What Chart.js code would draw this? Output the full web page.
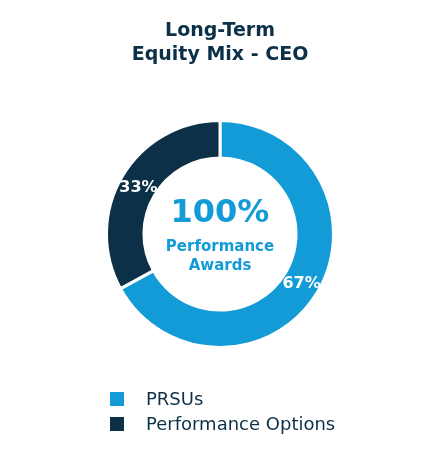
<!DOCTYPE html>
<html>
<head>
<meta charset="utf-8">
<script src="https://cdn.jsdelivr.net/npm/chart.js@4"></script>
<style>
  html, body { margin: 0; padding: 0; background: #fff; }
  #wrap { position: relative; width: 440px; height: 460px; }
  #legend { position: absolute; left: 110px; top: 386px; font-family: 'DejaVu Sans', sans-serif; font-size: 18px; color: #0b3047; }
  #legend div { height: 25px; line-height: 25px; }
  #legend span.box { display: inline-block; width: 14px; height: 14px; margin-right: 22px; vertical-align: -1px; }
</style>
</head>
<body>
<div id="wrap">
  <canvas id="chart" width="440" height="460"></canvas>
  <div id="legend"></div>
</div>
<script>
'use strict'

// ************* Data ****************
let categories = ['PRSUs', 'Performance Options'];
let shares = [67, 33];
let colors = ['#139bd7', '#0b3047'];
let titleLines = ['Long-Term', 'Equity Mix - CEO'];
let centerBig = '100%';
let centerSmall = ['Performance', 'Awards'];

let navy = '#0b3047';
let fontFamily = "'DejaVu Sans', sans-serif";

// ************* Plugin: labels, title, center text ****************
let textPlugin = {
  id: 'textPlugin',
  afterDatasetsDraw(chart) {
    let ctx = chart.ctx;
    let meta = chart.getDatasetMeta(0);
    ctx.save();
    ctx.textAlign = 'center';
    ctx.textBaseline = 'middle';

    // slice labels
    ctx.fillStyle = '#fff';
    ctx.font = 'bold 16px ' + fontFamily;
    meta.data.forEach(function (arc, i) {
      let p = arc.tooltipPosition();
      ctx.fillText(shares[i] + '%', p.x, p.y + 2);
    });

    // center
    let cx = meta.data[0].x;
    let cy = meta.data[0].y;
    ctx.fillStyle = colors[0];
    ctx.font = 'bold 32px ' + fontFamily;
    ctx.fillText(centerBig, cx, cy - 20);
    ctx.font = 'bold 15px ' + fontFamily;
    ctx.fillText(centerSmall[0], cx, cy + 13);
    ctx.fillText(centerSmall[1], cx, cy + 32);

    // title
    ctx.fillStyle = navy;
    ctx.font = 'bold 19px ' + fontFamily;
    ctx.fillText(titleLines[0], 220, 31);
    ctx.fillText(titleLines[1], 220, 55);
    ctx.restore();
  }
};

let chart = document.getElementById('chart');
new Chart(chart, {
  type: 'doughnut',
  data: {
    labels: categories,
    datasets: [{
      data: shares,
      backgroundColor: colors,
      borderColor: '#fff',
      borderWidth: 3,
      hoverOffset: 0
    }]
  },
  options: {
    responsive: false,
    animation: false,
    cutout: '67%',
    layout: {
      padding: { left: 105, right: 105, top: 119, bottom: 111 }
    },
    plugins: {
      legend: { display: false },
      tooltip: { enabled: false }
    }
  },
  plugins: [textPlugin]
});

// ************* Legend ****************
let legend = document.getElementById('legend');
for (let i = 0; i < categories.length; i++) {
  let row = document.createElement('div');
  let box = document.createElement('span');
  box.className = 'box';
  box.style.background = colors[i];
  row.appendChild(box);
  row.appendChild(document.createTextNode(categories[i]));
  legend.appendChild(row);
}
</script>
</body>
</html>
